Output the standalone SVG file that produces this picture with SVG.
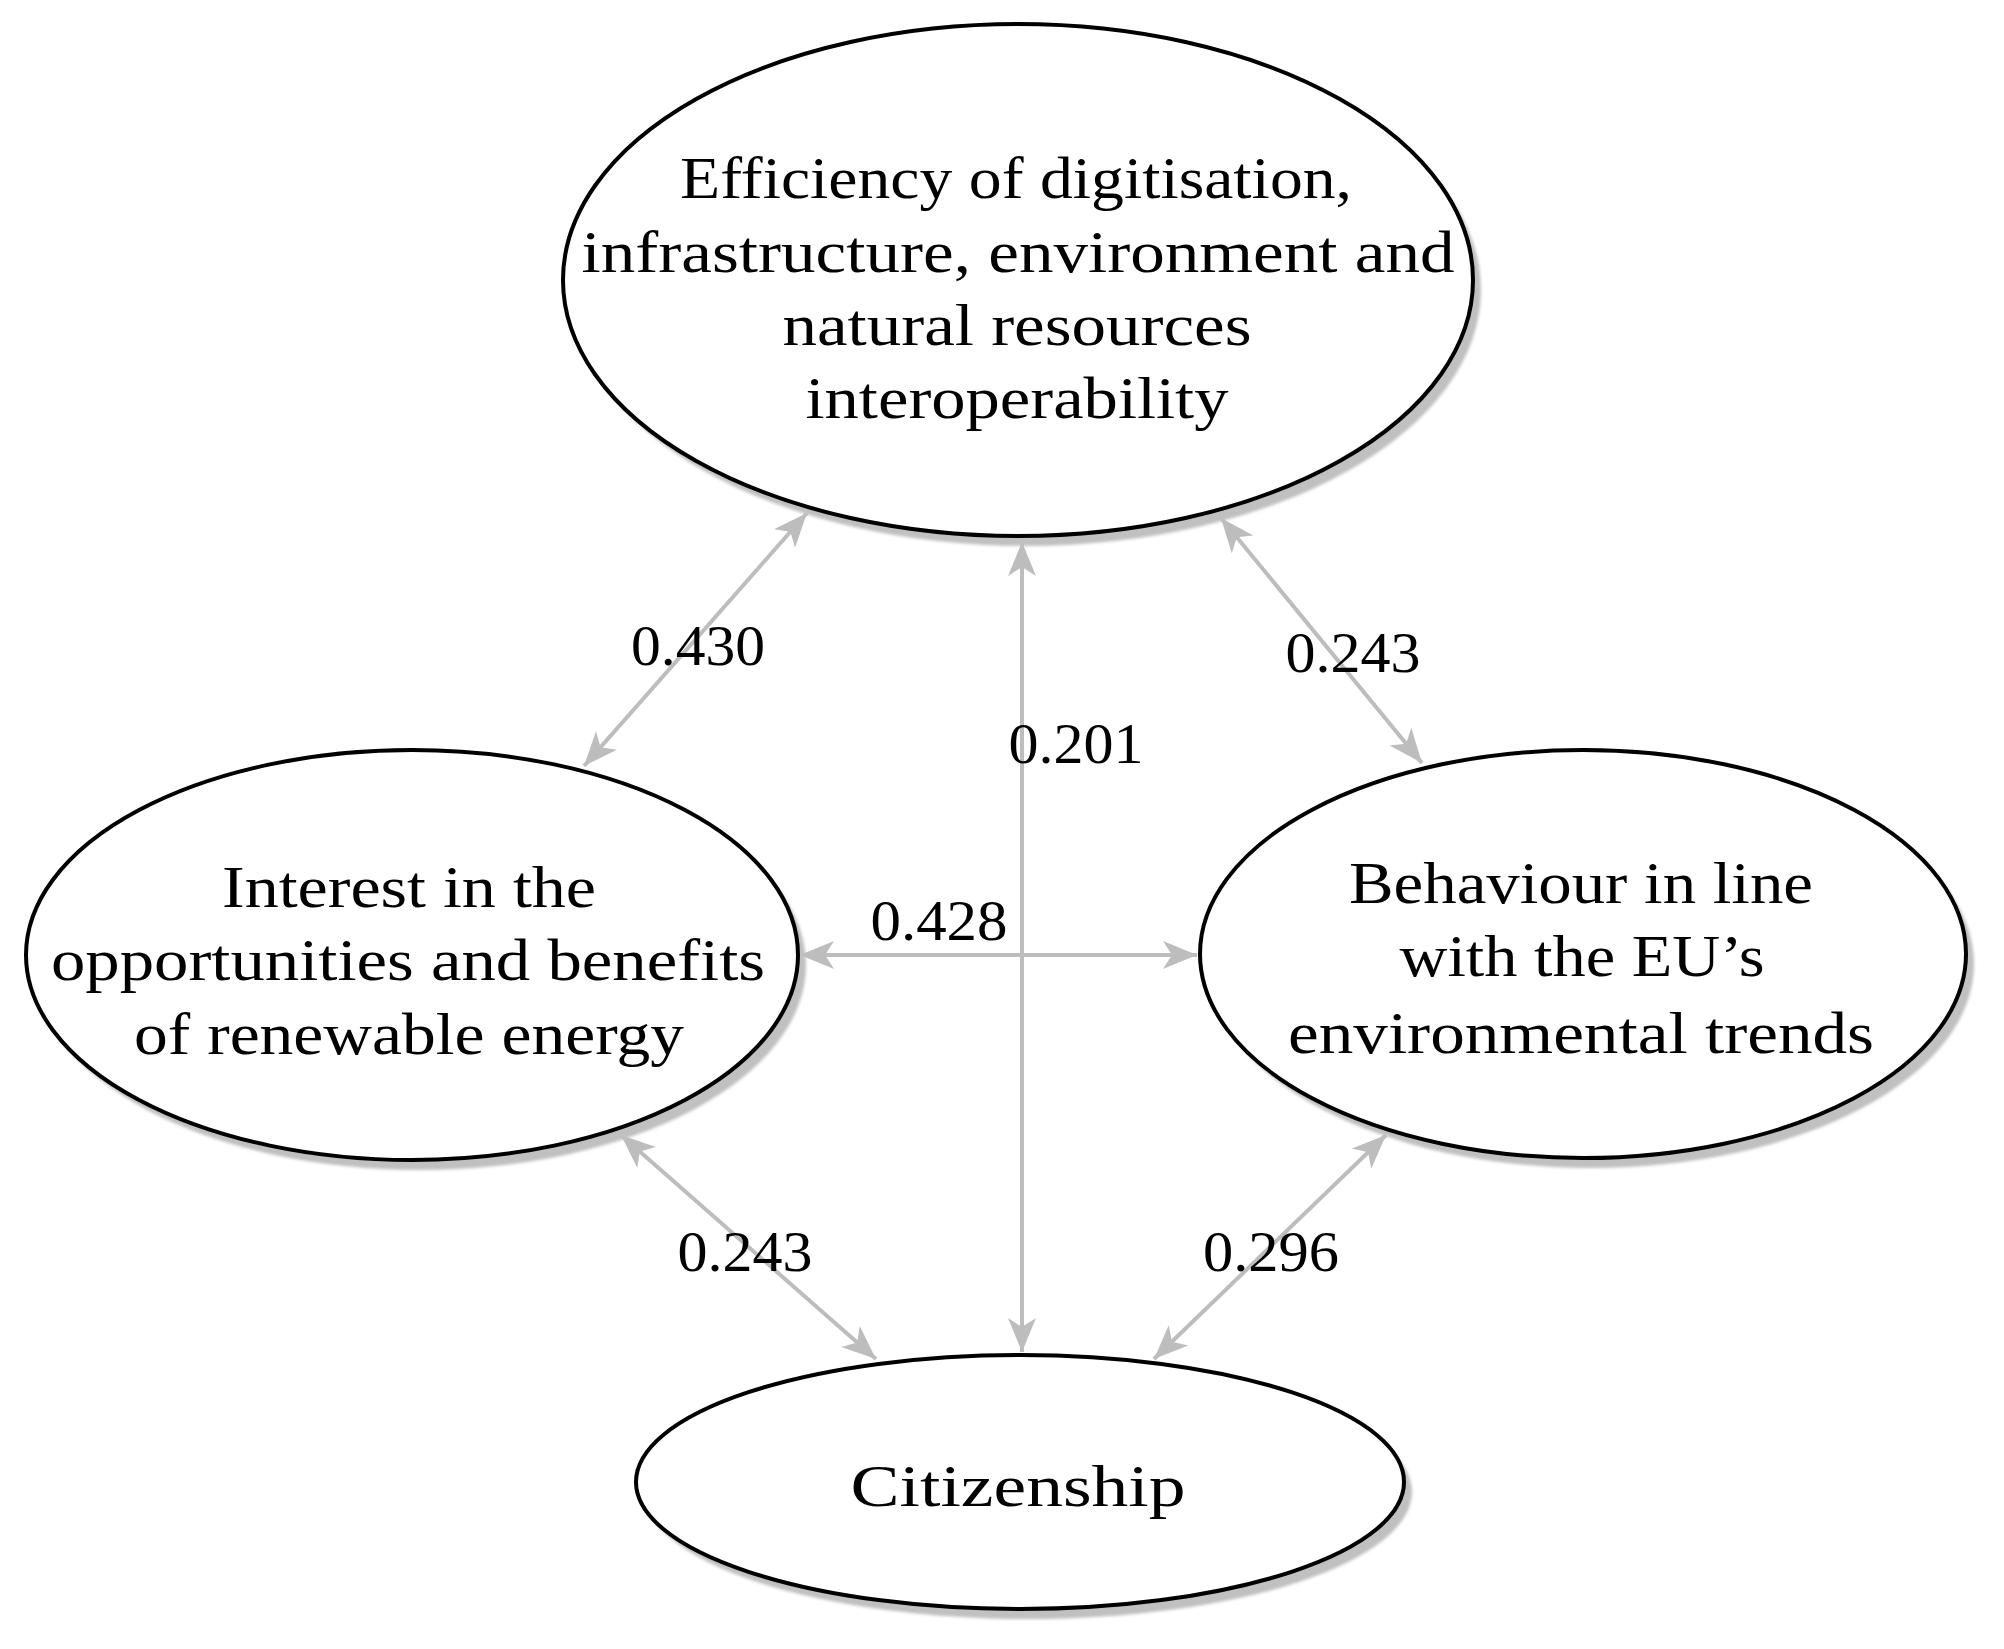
<svg xmlns="http://www.w3.org/2000/svg" width="2004" height="1649" viewBox="0 0 2004 1649">
  <defs>
    <style>
      .node { fill: #ffffff; stroke: #000000; stroke-width: 4; }
      .shadow { fill: #c0c0c0; stroke: none; filter: url(#soft); }
      .ntext { font-family: "Liberation Serif", "Times New Roman", serif; font-size: 59px; fill: #000000; text-anchor: middle; }
      .ltext { font-family: "Liberation Serif", "Times New Roman", serif; font-size: 57px; fill: #000000; text-anchor: middle; }
      .conn { stroke: #bdbdbd; stroke-width: 4; fill: none; marker-start: url(#arrow); marker-end: url(#arrow); }
    </style>
    <filter id="soft" x="-5%" y="-5%" width="110%" height="110%">
      <feGaussianBlur stdDeviation="1.5"/>
    </filter>
    <marker id="arrow" markerUnits="userSpaceOnUse" orient="auto-start-reverse" refX="0" refY="0" markerWidth="40" markerHeight="40" overflow="visible">
      <path d="M0,0 L-34,-14 L-25,0 L-34,14 Z" fill="#bdbdbd"/>
    </marker>
  </defs>
  <rect x="0" y="0" width="2004" height="1649" fill="#ffffff"/>

  <g id="connectors">
    <line class="conn" x1="807" y1="513" x2="584" y2="766"/>
    <line class="conn" x1="1022" y1="542" x2="1022" y2="1352"/>
    <line class="conn" x1="1221" y1="518" x2="1422" y2="763"/>
    <line class="conn" x1="800" y1="955" x2="1197" y2="955"/>
    <line class="conn" x1="621" y1="1135" x2="876" y2="1359"/>
    <line class="conn" x1="1386" y1="1135" x2="1154" y2="1359"/>
    <text class="ltext" x="698" y="665" textLength="134" lengthAdjust="spacingAndGlyphs">0.430</text>
    <text class="ltext" x="1076" y="763" textLength="135" lengthAdjust="spacingAndGlyphs">0.201</text>
    <text class="ltext" x="1353" y="672" textLength="135" lengthAdjust="spacingAndGlyphs">0.243</text>
    <text class="ltext" x="939" y="940" textLength="137" lengthAdjust="spacingAndGlyphs">0.428</text>
    <text class="ltext" x="745" y="1271" textLength="135" lengthAdjust="spacingAndGlyphs">0.243</text>
    <text class="ltext" x="1271" y="1271" textLength="136" lengthAdjust="spacingAndGlyphs">0.296</text>
  </g>

  <g id="node-efficiency">
    <ellipse class="shadow" cx="1026" cy="290" rx="455" ry="256"/>
    <ellipse class="node" cx="1018" cy="280" rx="455" ry="256"/>
    <text class="ntext" x="1016" y="198" textLength="672" lengthAdjust="spacingAndGlyphs">Efficiency of digitisation,</text>
    <text class="ntext" x="1018" y="272" textLength="873" lengthAdjust="spacingAndGlyphs">infrastructure, environment and</text>
    <text class="ntext" x="1017" y="345" textLength="469" lengthAdjust="spacingAndGlyphs">natural resources</text>
    <text class="ntext" x="1017" y="418" textLength="423" lengthAdjust="spacingAndGlyphs">interoperability</text>
  </g>

  <g id="node-interest">
    <ellipse class="shadow" cx="420" cy="965" rx="386" ry="205"/>
    <ellipse class="node" cx="412" cy="955" rx="386" ry="205"/>
    <text class="ntext" x="409" y="907" textLength="374" lengthAdjust="spacingAndGlyphs">Interest in the</text>
    <text class="ntext" x="408" y="980" textLength="714" lengthAdjust="spacingAndGlyphs">opportunities and benefits</text>
    <text class="ntext" x="409" y="1054" textLength="550" lengthAdjust="spacingAndGlyphs">of renewable energy</text>
  </g>

  <g id="node-behaviour">
    <ellipse class="shadow" cx="1591" cy="964" rx="383" ry="204"/>
    <ellipse class="node" cx="1583" cy="954" rx="383" ry="204"/>
    <text class="ntext" x="1581" y="903" textLength="464" lengthAdjust="spacingAndGlyphs">Behaviour in line</text>
    <text class="ntext" x="1582" y="976" textLength="365" lengthAdjust="spacingAndGlyphs">with the EU’s</text>
    <text class="ntext" x="1581" y="1053" textLength="586" lengthAdjust="spacingAndGlyphs">environmental trends</text>
  </g>

  <g id="node-citizenship">
    <ellipse class="shadow" cx="1028" cy="1492" rx="384" ry="127"/>
    <ellipse class="node" cx="1020" cy="1482" rx="384" ry="127"/>
    <text class="ntext" x="1018" y="1506" textLength="335" lengthAdjust="spacingAndGlyphs">Citizenship</text>
  </g>
</svg>
